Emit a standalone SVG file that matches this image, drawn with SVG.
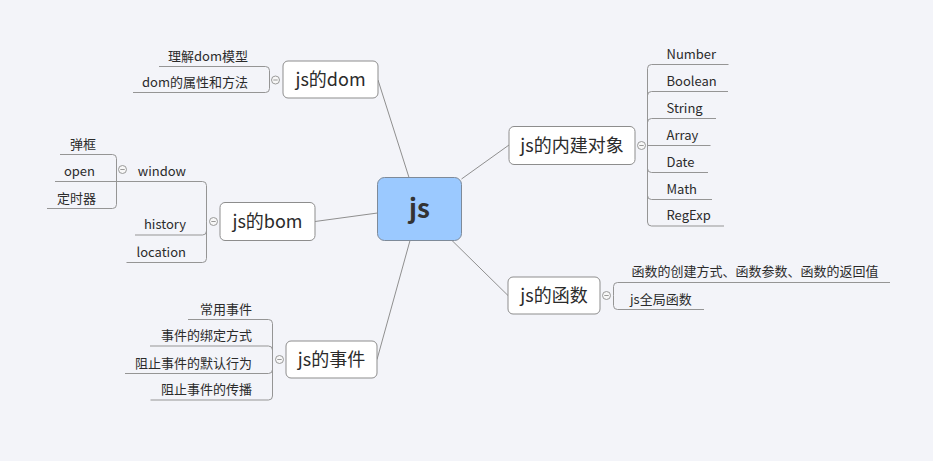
<svg xmlns="http://www.w3.org/2000/svg" width="933" height="461" viewBox="0 0 933 461">
<style>
text{font-family:"Noto Sans CJK SC","Microsoft YaHei","Noto Sans",sans-serif;fill:#2b2b2b}
.main{font-size:18px;text-anchor:middle}
.sub{font-size:13px}
.end{text-anchor:end}
.box{fill:#ffffff;stroke:#8d8d8d;stroke-width:1}
.conn{fill:none;stroke:#8f8f8f;stroke-width:1}
.br{fill:none;stroke:#959595;stroke-width:1}
.tog{fill:#f7f7f7;stroke:#9a9a9a;stroke-width:1}
.tm{stroke:#9a9a9a;stroke-width:1}
</style>
<rect x="0" y="0" width="933" height="461" fill="#f3f4f9"/>
<g id="connectors">
<path class="conn" d="M409,177.5 L378,80"/>
<path class="conn" d="M377.5,213 L315,221.5"/>
<path class="conn" d="M410,240.5 L377,359.5"/>
<path class="conn" d="M461.5,179 L509,145"/>
<path class="conn" d="M452,240.5 L508,295.5"/>
<!-- dom branches -->
<path class="br" d="M269.5,80 V70.5 Q269.5,66.5 265.5,66.5 H159"/>
<path class="br" d="M269.5,80 V88.5 Q269.5,92.5 265.5,92.5 H133"/>
<!-- bom branches -->
<path class="br" d="M206.5,221.5 V185.5 Q206.5,181.5 202.5,181.5 H117"/>
<path class="br" d="M206.5,221.5 V231 Q206.5,235 202.5,235 H135"/>
<path class="br" d="M206.5,221.5 V258.5 Q206.5,262.5 202.5,262.5 H126.5"/>
<!-- window branches -->
<path class="br" d="M116.5,181.5 V158.5 Q116.5,154.5 112.5,154.5 H60"/>
<path class="br" d="M117,181.5 H55"/>
<path class="br" d="M116.5,181.5 V204.5 Q116.5,208.5 112.5,208.5 H47"/>
<!-- event branches -->
<path class="br" d="M272.5,359.5 V323.5 Q272.5,319.5 268.5,319.5 H188"/>
<path class="br" d="M272.5,359.5 V350 Q272.5,346 268.5,346 H150"/>
<path class="br" d="M272.5,359.5 V369.5 Q272.5,373.5 268.5,373.5 H125"/>
<path class="br" d="M272.5,359.5 V396 Q272.5,400 268.5,400 H150.5"/>
<!-- builtin branches -->
<path class="br" d="M647.5,145.5 V68.5 Q647.5,64.5 651.5,64.5 H728.5"/>
<path class="br" d="M647.5,145.5 V95.5 Q647.5,91.5 651.5,91.5 H728"/>
<path class="br" d="M647.5,145.5 V122.5 Q647.5,118.5 651.5,118.5 H716"/>
<path class="br" d="M647.5,145.5 H710.5"/>
<path class="br" d="M647.5,145.5 V168.5 Q647.5,172.5 651.5,172.5 H708"/>
<path class="br" d="M647.5,145.5 V195.5 Q647.5,199.5 651.5,199.5 H712"/>
<path class="br" d="M647.5,145.5 V222 Q647.5,226 651.5,226 H724"/>
<!-- function branches -->
<path class="br" d="M613.5,295.5 V286.5 Q613.5,282.5 617.5,282.5 H890"/>
<path class="br" d="M613.5,295.5 V305.5 Q613.5,309.5 617.5,309.5 H704"/>
</g>
<g id="root">
<rect x="377.5" y="177.5" width="84" height="63" rx="7" fill="#9bc9ff" stroke="#7e8a99"/>
<text x="419.5" y="218" style="font-size:26px;font-weight:bold;text-anchor:middle;fill:#333">js</text>
</g>
<g id="js-dom">
<rect class="box" x="283" y="61" width="95" height="37" rx="5"/>
<text class="main" x="330.5" y="86">js的dom</text>
<circle class="tog" cx="275.5" cy="80" r="4"/><line class="tm" x1="273.3" y1="80" x2="277.7" y2="80"/>
</g>
<g id="dom-1"><text class="sub end" x="248" y="60.5">理解dom模型</text></g>
<g id="dom-2"><text class="sub end" x="248" y="86.5">dom的属性和方法</text></g>
<g id="js-bom">
<rect class="box" x="220" y="202.5" width="95" height="38" rx="5"/>
<text class="main" x="267.5" y="228">js的bom</text>
<circle class="tog" cx="213.5" cy="221.5" r="4"/><line class="tm" x1="211.3" y1="221.5" x2="215.7" y2="221.5"/>
</g>
<g id="window">
<text class="sub end" x="186" y="175.5">window</text>
<circle class="tog" cx="122.5" cy="169.5" r="4"/><line class="tm" x1="120.3" y1="169.5" x2="124.7" y2="169.5"/>
</g>
<g id="w-1"><text class="sub end" x="96" y="148.5">弹框</text></g>
<g id="w-2"><text class="sub end" x="95" y="175.5">open</text></g>
<g id="w-3"><text class="sub end" x="96" y="202.5">定时器</text></g>
<g id="history"><text class="sub end" x="186" y="229">history</text></g>
<g id="location"><text class="sub end" x="186" y="256.5">location</text></g>
<g id="js-event">
<rect class="box" x="286" y="341" width="91" height="37" rx="5"/>
<text class="main" x="331.5" y="366">js的事件</text>
<circle class="tog" cx="279.5" cy="359.5" r="4"/><line class="tm" x1="277.3" y1="359.5" x2="281.7" y2="359.5"/>
</g>
<g id="e-1"><text class="sub end" x="252" y="313.5">常用事件</text></g>
<g id="e-2"><text class="sub end" x="252" y="340">事件的绑定方式</text></g>
<g id="e-3"><text class="sub end" x="252" y="367.5">阻止事件的默认行为</text></g>
<g id="e-4"><text class="sub end" x="252" y="394">阻止事件的传播</text></g>
<g id="js-builtin">
<rect class="box" x="509" y="126.5" width="126" height="38" rx="5"/>
<text class="main" x="572" y="152">js的内建对象</text>
<circle class="tog" cx="641.5" cy="145.5" r="4"/><line class="tm" x1="639.3" y1="145.5" x2="643.7" y2="145.5"/>
</g>
<g id="b-1"><text class="sub" x="666.5" y="58.5">Number</text></g>
<g id="b-2"><text class="sub" x="666.5" y="85.5">Boolean</text></g>
<g id="b-3"><text class="sub" x="666.5" y="112.5">String</text></g>
<g id="b-4"><text class="sub" x="666.5" y="139.5">Array</text></g>
<g id="b-5"><text class="sub" x="666.5" y="166.5">Date</text></g>
<g id="b-6"><text class="sub" x="666.5" y="193.5">Math</text></g>
<g id="b-7"><text class="sub" x="666.5" y="220">RegExp</text></g>
<g id="js-func">
<rect class="box" x="508" y="277" width="92" height="37" rx="5"/>
<text class="main" x="554" y="302">js的函数</text>
<circle class="tog" cx="606.5" cy="295.5" r="4"/><line class="tm" x1="604.3" y1="295.5" x2="608.7" y2="295.5"/>
</g>
<g id="f-1"><text class="sub" x="631.5" y="276">函数的创建方式、函数参数、函数的返回值</text></g>
<g id="f-2"><text class="sub" x="630" y="303.5">js全局函数</text></g>
</svg>
